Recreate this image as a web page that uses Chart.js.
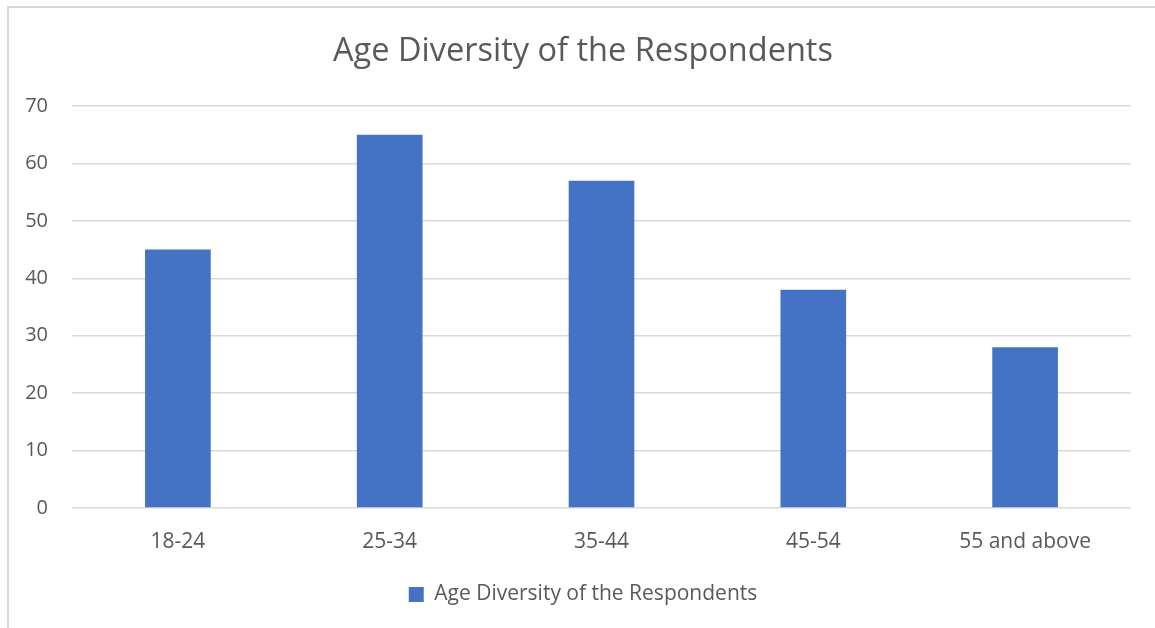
<!DOCTYPE html>
<html lang="en">
<head>
    <meta charset="UTF-8">
    <title>Age Diversity of the Respondents</title>
    <script src="https://cdn.jsdelivr.net/npm/chart.js@4.4.0/dist/chart.umd.min.js"></script>
    <style>
        body {
            margin: 0;
            background: #ffffff;
            overflow: hidden;
        }
        .frame {
            position: absolute;
            left: 7px;
            top: 6px;
            width: 1200px;
            height: 700px;
            border: 2px solid #d9d9d9;
        }
        .chart-box {
            position: absolute;
            left: 0;
            top: 0;
            width: 1155px;
            height: 628px;
        }
    </style>
</head>
<body>
    <div class="frame"></div>
    <div class="chart-box">
        <canvas id="ageChart"></canvas>
    </div>

    <script>
        // data
        const ageGroups = ['18-24', '25-34', '35-44', '45-54', '55 and above'];
        const respondents = [45, 65, 57, 38, 28];
        const seriesName = 'Age Diversity of the Respondents';

        const textColor = '#595959';
        const fontFamily = '"Open Sans", Lato, sans-serif';

        // original centres title + legend a bit right of the axis box, nudge them over
        const recentre = {
            id: 'recentre',
            afterLayout(chart) {
                if (chart.titleBlock) chart.titleBlock.left += 35;
                if (chart.legend) chart.legend.left += 35;
            }
        };

        new Chart(document.getElementById('ageChart'), {
            type: 'bar',
            data: {
                labels: ageGroups,
                datasets: [{
                    label: seriesName,
                    data: respondents,
                    backgroundColor: '#4472c4',
                    borderWidth: 0,
                    categoryPercentage: 1.0,
                    barPercentage: 0.31
                }]
            },
            options: {
                responsive: true,
                maintainAspectRatio: false,
                animation: false,
                layout: { padding: { left: 0, right: 24, top: 32, bottom: 13 } },
                scales: {
                    x: {
                        grid: { display: false, drawTicks: false },
                        border: { display: false },
                        ticks: { color: textColor, font: { size: 21, family: fontFamily }, padding: 21, maxRotation: 0 },
                        afterFit: (scale) => { scale.height = 66; }
                    },
                    y: {
                        min: 0,
                        max: 70,
                        ticks: { stepSize: 10, color: textColor, font: { size: 20, family: fontFamily }, padding: 24 },
                        grid: { color: '#d9d9d9', lineWidth: 1.5, drawTicks: false },
                        border: { display: false },
                        afterFit: (scale) => { scale.width = 72; }
                    }
                },
                plugins: {
                    title: {
                        display: true,
                        text: seriesName,
                        color: textColor,
                        font: { size: 32.5, weight: 'normal', family: fontFamily },
                        padding: { top: 0, bottom: 35 }
                    },
                    legend: {
                        position: 'bottom',
                        labels: {
                            color: textColor,
                            font: { size: 21, family: fontFamily },
                            boxWidth: 15,
                            boxHeight: 15,
                            padding: 10
                        }
                    },
                    tooltip: { enabled: false }
                }
            },
            plugins: [recentre]
        });
    </script>
</body>
</html>
